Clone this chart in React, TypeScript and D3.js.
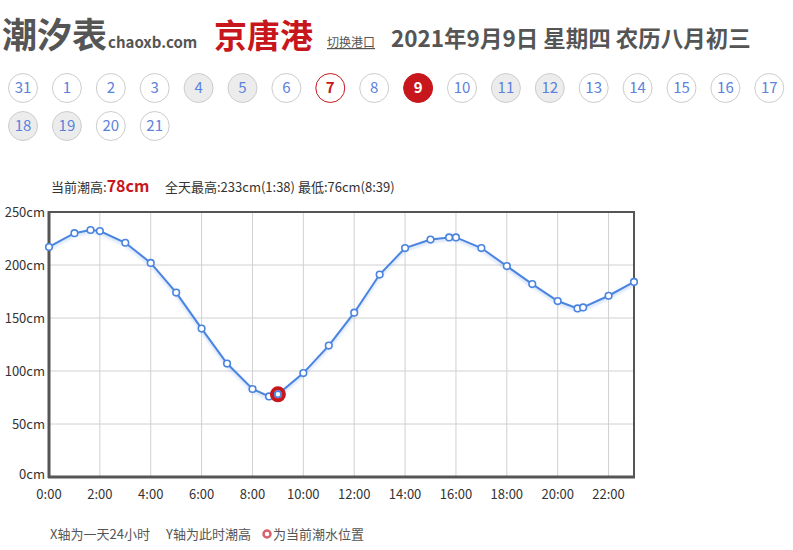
import * as d3 from "d3"
import React from "react"

// hourly tide heights plus the day's turning points (hours as decimals)
const hours = [0, 1, 1.633, 2, 3, 4, 5, 6, 7, 8, 8.65, 9, 10, 11, 12, 13, 14, 15, 15.73, 16, 17, 18, 19, 20, 20.78, 21, 22, 23]
const heights = [217, 230, 233, 232, 221, 202, 174, 140, 107, 83, 76, 78, 98, 124, 155, 191, 216, 224, 226, 226, 216, 199, 182, 166, 159, 160, 171, 184]
const currentHour = 9
const currentHeight = 78

const yTicks = [0, 50, 100, 150, 200, 250]
const xTicks = [0, 2, 4, 6, 8, 10, 12, 14, 16, 18, 20, 22]

const days = ["31", "1", "2", "3", "4", "5", "6", "7", "8", "9", "10", "11", "12", "13", "14", "15", "16", "17", "18", "19", "20", "21"]
const weekendDays = ["4", "5", "11", "12", "18", "19"]
const pastDay = "7"
const today = "9"

const FONT = "'Noto Sans CJK SC', 'Noto Sans', sans-serif"
const RED = "#c8161d"
const BLUE = "#4a84e0"

function App() {
  const width = 793,
    height = 550
  const left = 49,
    right = 634,
    top = 212,
    bottom = 477

  const x = d3.scaleLinear().domain([0, 23]).range([left, right])
  const y = d3.scaleLinear().domain([0, 250]).range([bottom, top])

  const pts = hours.map((h, i) => [h, heights[i]] as [number, number])
  const line = d3
    .line<[number, number]>()
    .x((d) => x(d[0]))
    .y((d) => y(d[1]))

  return (
    <div style={{ position: "absolute", left: 0, top: 0 }}>
      <svg width={width} height={height} style={{ fontFamily: FONT, display: "block" }}>
        <defs>
          <filter id="shadow" x="-10%" y="-10%" width="120%" height="130%">
            <feDropShadow dx="0" dy="2" stdDeviation="1.5" floodColor="#4a84e0" floodOpacity="0.35" />
          </filter>
        </defs>

        {/* header */}
        <text x={2} y={48} fontSize={35} fontWeight="bold" fill="#555">
          潮汐表
          <tspan fontSize={15} dx={1}>chaoxb.com</tspan>
        </text>
        <text x={214} y={48} fontSize={33} fontWeight="bold" fill={RED}>京唐港</text>
        <text x={327} y={47} fontSize={12} fill="#555" textDecoration="underline">切换港口</text>
        <text x={391} y={47} fontSize={22.5} fontWeight="bold" fill="#555">2021年9月9日 星期四 农历八月初三</text>

        {/* day buttons */}
        {days.map((d, i) => {
          const col = i % 18
          const row = Math.floor(i / 18)
          const cx = 23 + col * 43.9
          const cy = 88 + row * 38
          const isToday = d === today
          const isPast = d === pastDay
          const fill = isToday ? RED : weekendDays.includes(d) ? "#ececec" : "#fff"
          const stroke = isToday ? RED : isPast ? RED : "#ccc"
          const color = isToday ? "#fff" : isPast ? RED : "#5b82dc"
          return (
            <g key={d}>
              <circle cx={cx} cy={cy} r={14.5} fill={fill} stroke={stroke} strokeWidth={1} />
              <text
                x={cx}
                y={cy + 5}
                textAnchor="middle"
                fontSize={15}
                fontWeight={isToday || isPast ? "bold" : "normal"}
                fill={color}
              >
                {d}
              </text>
            </g>
          )
        })}

        {/* summary */}
        <text x={51} y={192} fontSize={13} fill="#333">
          当前潮高:
          <tspan fontSize={16} fontWeight="bold" fill={RED}>{currentHeight}cm</tspan>
        </text>
        <text x={165} y={192} fontSize={13} fill="#333">全天最高:233cm(1:38) 最低:76cm(8:39)</text>

        {/* grid */}
        {xTicks.slice(1).map((t) => (
          <line key={"gx" + t} x1={x(t)} x2={x(t)} y1={top} y2={bottom} stroke="#d0d0d0" />
        ))}
        {yTicks.slice(1, -1).map((t) => (
          <line key={"gy" + t} x1={left} x2={right} y1={y(t)} y2={y(t)} stroke="#d0d0d0" />
        ))}

        {/* frame */}
        <rect x={left} y={top} width={right - left} height={bottom - top} fill="none" stroke="#555" strokeWidth={2} />
        <line x1={left} x2={left} y1={top - 1} y2={bottom + 1} stroke="#555" strokeWidth={3} />
        <line x1={left - 1} x2={right + 1} y1={bottom} y2={bottom} stroke="#555" strokeWidth={3} />

        {/* axis labels */}
        {yTicks.map((t) => (
          <text key={"ly" + t} x={45} y={y(t) + (t === 0 ? 2 : 5)} textAnchor="end" fontSize={13} fill="#333">
            {t}cm
          </text>
        ))}
        {xTicks.map((t) => (
          <text key={"lx" + t} x={x(t)} y={499} textAnchor="middle" fontSize={13} fill="#333">
            {t}:00
          </text>
        ))}

        {/* tide line */}
        <path d={line(pts) ?? ""} fill="none" stroke={BLUE} strokeWidth={2} filter="url(#shadow)" />
        {pts.map((p, i) => (
          <circle key={"p" + i} cx={x(p[0])} cy={y(p[1])} r={3.3} fill="#fff" stroke={BLUE} strokeWidth={1.6} />
        ))}

        {/* current position */}
        <circle cx={x(currentHour)} cy={y(currentHeight)} r={6} fill="none" stroke={RED} strokeWidth={4} />
        <circle cx={x(currentHour)} cy={y(currentHeight)} r={3} fill="#fff" stroke={BLUE} strokeWidth={1.5} />

        {/* legend */}
        <text x={50} y={539} fontSize={13} fill="#555">X轴为一天24小时</text>
        <text x={166} y={539} fontSize={13} fill="#555">Y轴为此时潮高</text>
        <circle cx={267} cy={534} r={3.5} fill="#fff" stroke="#d9606a" strokeWidth={2.5} />
        <text x={273} y={539} fontSize={13} fill="#555">为当前潮水位置</text>
      </svg>
    </div>
  )
}

export default App
